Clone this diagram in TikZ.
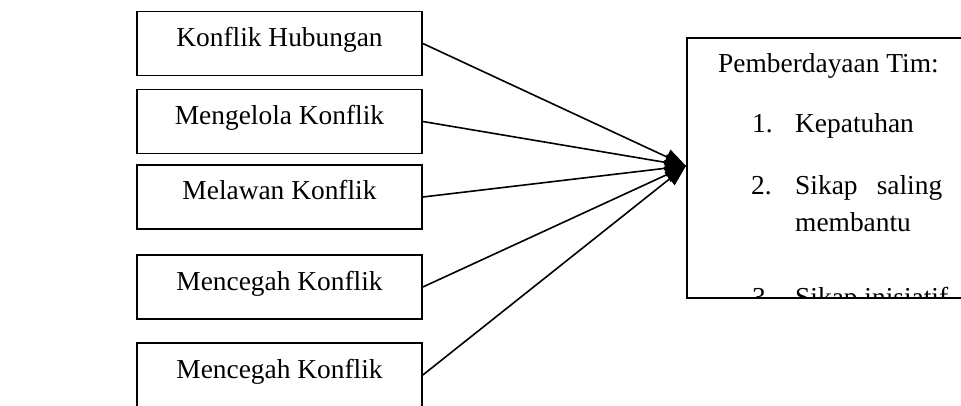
\documentclass[tikz,border=0pt]{standalone}
\usepackage{fontspec}
\setmainfont{Liberation Serif}
\usetikzlibrary{arrows.meta}
\begin{document}
\begin{tikzpicture}[x=1pt,y=-1pt,
  every node/.style={font=\fontsize{27.4}{36}\selectfont},
  factor/.style={draw, line width=1.7pt, minimum width=285pt, minimum height=64pt,
                 inner sep=0pt, text height=19pt, text depth=13pt},
  link/.style={line width=1.6pt, -{Triangle[length=21pt,width=16pt]}},
  item/.style={anchor=base west, inner sep=0pt}]
  \clip (0,0) rectangle (961,406);

  % conflict factors on the left
  \node[factor] (k1) at (279.5,43.5) {Konflik Hubungan};
  \node[factor] (k2) at (279.5,121.5) {Mengelola Konflik};
  \node[factor] (k3) at (279.5,197) {Melawan Konflik};
  \node[factor] (k4) at (279.5,287) {Mencegah Konflik};
  \node[factor] (k5) at (279.5,375) {Mencegah Konflik};

  % team empowerment box (runs past the right edge)
  \node[draw, line width=1.7pt, minimum width=320pt, minimum height=260pt,
        anchor=north west, inner sep=0pt] (team) at (686,37) {};

  \begin{scope}
    \clip (686,37) rectangle (961,297);
    \node[item] (head) at (718,73) {Pemberdayaan Tim:};
    \node[item] (n1) at (752,133) {1.};
    \node[item] (t1) at (795,133) {Kepatuhan};
    \node[item] (n2) at (751,195) {2.};
    \node[item] (t2) at (795,195) {\hbox to 147pt{Sikap\hfill saling}};
    \node[item] (t2b) at (795,232) {membantu};
    \node[item] (n3) at (752,306) {3.};
    \node[item] (t3) at (795,306) {Sikap inisiatif};
  \end{scope}

  % connectors converging on the box
  \coordinate (tip) at ([yshift=2pt]team.west);
  \foreach \n in {k1,k2,k3,k4,k5}
    \draw[link] (\n.east) -- (tip);
\end{tikzpicture}
\end{document}
